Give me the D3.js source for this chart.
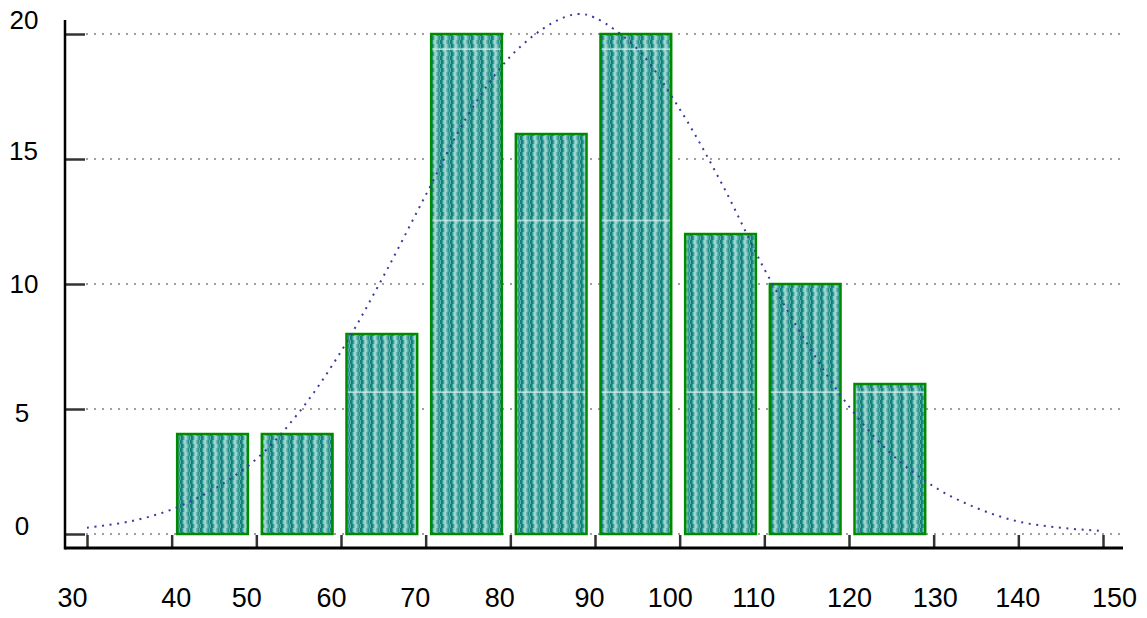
<!DOCTYPE html>
<html>
<head>
<meta charset="utf-8">
<script src="https://cdn.jsdelivr.net/npm/d3@7"></script>
<style>
  body { margin: 0; background: #fff; }
  svg { display: block; font-family: "Liberation Sans", Arial, sans-serif; }
</style>
</head>
<body>
<svg id="chart" width="1147" height="618"></svg>
<script>
// histogram data
const binStarts = [40, 50, 60, 70, 80, 90, 100, 110, 120];
const counts    = [4, 4, 8, 20, 16, 20, 12, 10, 6];
const binWidth  = 10;

const xTicks = [30, 40, 50, 60, 70, 80, 90, 100, 110, 120, 130, 140, 150];
const yTicks = [0, 5, 10, 15, 20];

// fitted curve
const curveX = [30, 35, 40, 45, 50, 55, 60, 65, 70, 75, 80, 85, 88, 90, 95, 100, 105, 110, 115, 120, 125, 130, 135, 140, 145, 150];
const curveY = [0.25, 0.5, 0.98, 1.8, 3.0, 4.85, 7.3, 10.3, 13.55, 16.76, 19.1, 20.45, 20.8, 20.65, 19.4, 17.0, 14.0, 10.6, 7.65, 5.1, 3.2, 1.9, 1.05, 0.5, 0.25, 0.12];

// label nudges (px), the reference labels sit a bit off their ticks
const xLabelDx = [-15, 4, -10, -10, -11, -11, -6, -10, -11, 0, 1, -1, 11];
const yLabelDy = [-9, 3.5, -1, -9, -15];
const yLabelDx = [-1, -1, 1, 0.5, 1];

const svg = d3.select("#chart");

const x = d3.scaleLinear().domain([30, 150]).range([87, 1103]);
const y = d3.scaleLinear().domain([0, 20]).range([534, 34]);

const axisX0 = 65, axisY0 = 548;

// textures
const defs = svg.append("defs");
const stripeCols = ["#0f7e77", "#168680", "#3a9f98", "#7cc3be", "#a2d6d2", "#9ad2cd", "#6cbab4", "#4aa8a1", "#2a938c", "#5cb2ac"];
const zig = defs.append("pattern")
  .attr("id", "zig")
  .attr("patternUnits", "userSpaceOnUse")
  .attr("width", stripeCols.length).attr("height", 8);
[0, 1].forEach((band) => {
  stripeCols.forEach((c, i) => {
    zig.append("rect")
      .attr("x", (i + band) % stripeCols.length).attr("y", band * 4)
      .attr("width", 1).attr("height", 4)
      .attr("fill", c);
  });
});
const seam = defs.append("pattern")
  .attr("id", "seam")
  .attr("patternUnits", "userSpaceOnUse")
  .attr("width", 8).attr("height", 171.5);
seam.append("rect")
  .attr("x", 0).attr("y", 48.3)
  .attr("width", 8).attr("height", 1.6)
  .attr("fill", "#d6f0ec").attr("opacity", 0.85);

// gridlines
svg.append("g")
  .selectAll("line")
  .data(yTicks)
  .join("line")
  .attr("x1", 86).attr("x2", 1120)
  .attr("y1", (d) => y(d)).attr("y2", (d) => y(d))
  .attr("stroke", "#a0a0a0")
  .attr("stroke-width", 2)
  .attr("stroke-dasharray", "2 6");

// bars
const bars = svg.append("g")
  .selectAll("g")
  .data(binStarts.map((b, i) => ({ b: b, n: counts[i] })))
  .join("g");

bars.append("rect")
  .attr("x", (d) => x(d.b + 0.65))
  .attr("y", (d) => y(d.n))
  .attr("width", (d) => x(d.b + binWidth - 1) - x(d.b + 0.65))
  .attr("height", (d) => y(0) - y(d.n))
  .attr("fill", "url(#zig)");

bars.append("rect")
  .attr("x", (d) => x(d.b + 0.65))
  .attr("y", (d) => y(d.n) + 3)
  .attr("width", (d) => x(d.b + binWidth - 1) - x(d.b + 0.65))
  .attr("height", (d) => Math.max(0, y(0) - y(d.n) - 3))
  .attr("fill", "url(#seam)");

bars.append("rect")
  .attr("x", (d) => x(d.b + 0.65))
  .attr("y", (d) => y(d.n))
  .attr("width", (d) => x(d.b + binWidth - 1) - x(d.b + 0.65))
  .attr("height", (d) => y(0) - y(d.n))
  .attr("fill", "none")
  .attr("stroke", "#008a00")
  .attr("stroke-width", 2.5);

// dotted curve on top
const line = d3.line()
  .x((d) => x(d[0]))
  .y((d) => y(d[1]))
  .curve(d3.curveCatmullRom);

svg.append("path")
  .datum(curveX.map((v, i) => [v, curveY[i]]))
  .attr("d", line)
  .attr("fill", "none")
  .attr("stroke", "#3a3aa0")
  .attr("stroke-width", 2)
  .attr("stroke-dasharray", "2 5.6");

// y axis
const yAxis = svg.append("g")
  .attr("transform", `translate(${axisX0},0)`)
  .call(d3.axisLeft(y).tickValues(yTicks).tickSizeInner(-20).tickSizeOuter(0).tickPadding(42));
yAxis.select(".domain").remove();
yAxis.selectAll(".tick line").attr("stroke", "#333").attr("stroke-width", 2.5);
yAxis.selectAll(".tick text")
  .attr("font-size", 26)
  .attr("font-family", "Liberation Sans, Arial, sans-serif")
  .attr("fill", "#000")
  .attr("text-anchor", "middle")
  .attr("x", (d, i) => -42 + yLabelDx[i])
  .attr("dy", (d, i) => (yLabelDy[i] + 9.3) + "px");

// x axis
const xAxis = svg.append("g")
  .attr("transform", `translate(0,${axisY0})`)
  .call(d3.axisBottom(x).tickValues(xTicks).tickSizeInner(-13).tickSizeOuter(0).tickPadding(40));
xAxis.select(".domain").remove();
xAxis.selectAll(".tick line").attr("stroke", "#333").attr("stroke-width", 2.5);
xAxis.selectAll(".tick text")
  .attr("font-size", 27)
  .attr("font-family", "Liberation Sans, Arial, sans-serif")
  .attr("fill", "#000")
  .attr("dx", (d, i) => xLabelDx[i]);

// axis lines
svg.append("line")
  .attr("x1", axisX0).attr("x2", axisX0)
  .attr("y1", 20).attr("y2", axisY0 + 1.5)
  .attr("stroke", "#000").attr("stroke-width", 2.5);
svg.append("line")
  .attr("x1", axisX0).attr("x2", 1123)
  .attr("y1", axisY0).attr("y2", axisY0)
  .attr("stroke", "#000").attr("stroke-width", 3);
</script>
</body>
</html>
